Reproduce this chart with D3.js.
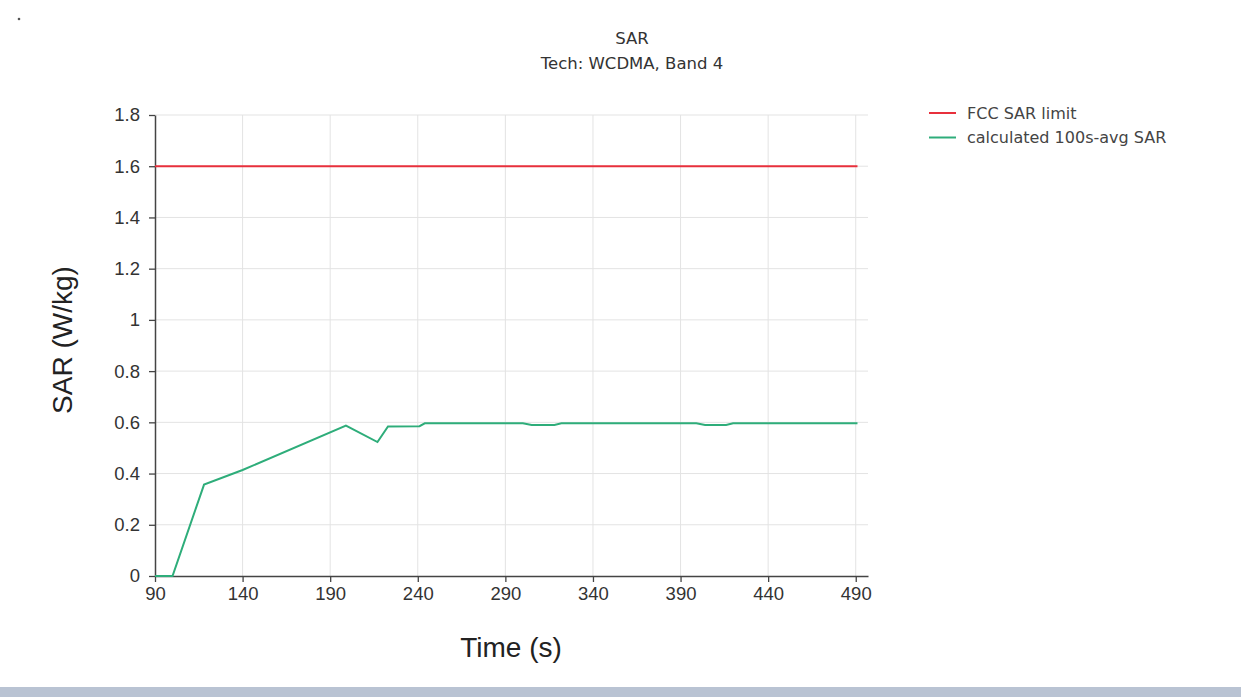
<!DOCTYPE html>
<html>
<head>
<meta charset="utf-8">
<script src="https://cdn.jsdelivr.net/npm/d3@7"></script>
<style>
  html, body { margin: 0; padding: 0; background: #fff; }
  svg { display: block; }
</style>
</head>
<body>
<svg id="chart" width="1241" height="697"></svg>
<script>
// ---- data ----
const xTicks = [90, 140, 190, 240, 290, 340, 390, 440, 490];
const yTicks = [0, 0.2, 0.4, 0.6, 0.8, 1, 1.2, 1.4, 1.6, 1.8];
const limitTimes = [90, 491];
const limitValues = [1.6, 1.6];
const avgTimes  = [90, 100, 118, 140, 199, 217, 223, 241, 244, 300, 305, 318, 322, 399, 404, 416, 420, 491];
const avgValues = [0, 0, 0.357, 0.414, 0.587, 0.523, 0.584, 0.585, 0.596, 0.596, 0.590, 0.590, 0.596, 0.596, 0.590, 0.590, 0.596, 0.596];
const seriesNames = ["FCC SAR limit", "calculated 100s-avg SAR"];
const seriesColors = ["#e8303c", "#2ead7a"];

const svg = d3.select("#chart");
const W = 1241, H = 697;

const x = d3.scaleLinear().domain([90, 497]).range([155, 868]);
const y = d3.scaleLinear().domain([0, 1.8]).range([576, 115]);

// bottom bar
svg.append("rect").attr("x", 0).attr("y", 687).attr("width", W).attr("height", 10).attr("fill", "#b9c3d3");
svg.append("circle").attr("cx", 19).attr("cy", 19).attr("r", 1.3).attr("fill", "#555");

// grid
const grid = svg.append("g");
grid.selectAll("line.h").data(yTicks.filter(d => d > 0)).enter().append("line")
  .attr("x1", x(90)).attr("x2", x(497)).attr("y1", d => y(d)).attr("y2", d => y(d))
  .attr("stroke", "#e3e3e3").attr("stroke-width", 1);
grid.selectAll("line.v").data(xTicks.filter(d => d > 90)).enter().append("line")
  .attr("x1", d => x(d)).attr("x2", d => x(d)).attr("y1", y(0)).attr("y2", y(1.8))
  .attr("stroke", "#e3e3e3").attr("stroke-width", 1);

// axes
const xAxis = d3.axisBottom(x).tickValues(xTicks).tickSize(6).tickSizeOuter(0).tickFormat(d3.format("d"));
const yAxis = d3.axisLeft(y).tickValues(yTicks).tickSize(6).tickSizeOuter(0).tickFormat(d => d3.format("~g")(d));

const gx = svg.append("g").attr("transform", `translate(0,${y(0)})`).call(xAxis);
const gy = svg.append("g").attr("transform", `translate(${x(90)},0)`).call(yAxis);
[gx, gy].forEach(g => {
  g.select(".domain").attr("stroke", "#444").attr("stroke-width", 1.5);
  g.selectAll(".tick line").attr("stroke", "#444").attr("stroke-width", 1.3);
  g.selectAll(".tick text").attr("fill", "#333").attr("font-family", "Liberation Sans, Arial, sans-serif").attr("font-size", 18.5);
});
gx.selectAll(".tick text").attr("y", 11);
gy.selectAll(".tick text").attr("x", -15);

// lines
const line = d3.line().x(d => x(d[0])).y(d => y(d[1]));
svg.append("path").datum(limitTimes.map((t, i) => [t, limitValues[i]]))
  .attr("d", line).attr("fill", "none").attr("stroke", seriesColors[0]).attr("stroke-width", 2);
svg.append("path").datum(avgTimes.map((t, i) => [t, avgValues[i]]))
  .attr("d", line).attr("fill", "none").attr("stroke", seriesColors[1]).attr("stroke-width", 2);

// titles
svg.append("text").attr("x", 632).attr("y", 44).attr("text-anchor", "middle")
  .attr("font-family", "DejaVu Sans, Verdana, sans-serif").attr("font-size", 16.5).attr("fill", "#333").text("SAR");
svg.append("text").attr("x", 632).attr("y", 69).attr("text-anchor", "middle")
  .attr("font-family", "DejaVu Sans, Verdana, sans-serif").attr("font-size", 16.5).attr("fill", "#333").text("Tech: WCDMA, Band 4");

// axis labels
svg.append("text").attr("x", 511).attr("y", 657).attr("text-anchor", "middle")
  .attr("font-family", "Liberation Sans, Arial, sans-serif").attr("font-size", 28).attr("fill", "#222").text("Time (s)");
svg.append("text").attr("transform", `translate(72,340) rotate(-90)`).attr("text-anchor", "middle")
  .attr("font-family", "Liberation Sans, Arial, sans-serif").attr("font-size", 28).attr("fill", "#222").text("SAR (W/kg)");

// legend
const leg = svg.append("g");
seriesNames.forEach((name, i) => {
  const yy = 113 + i * 24.5;
  leg.append("line").attr("x1", 929).attr("x2", 956).attr("y1", yy).attr("y2", yy)
    .attr("stroke", seriesColors[i]).attr("stroke-width", 2);
  leg.append("text").attr("x", 967).attr("y", yy + 5.5)
    .attr("font-family", "DejaVu Sans, Verdana, sans-serif").attr("font-size", 16).attr("fill", "#444").text(name);
});
</script>
</body>
</html>
